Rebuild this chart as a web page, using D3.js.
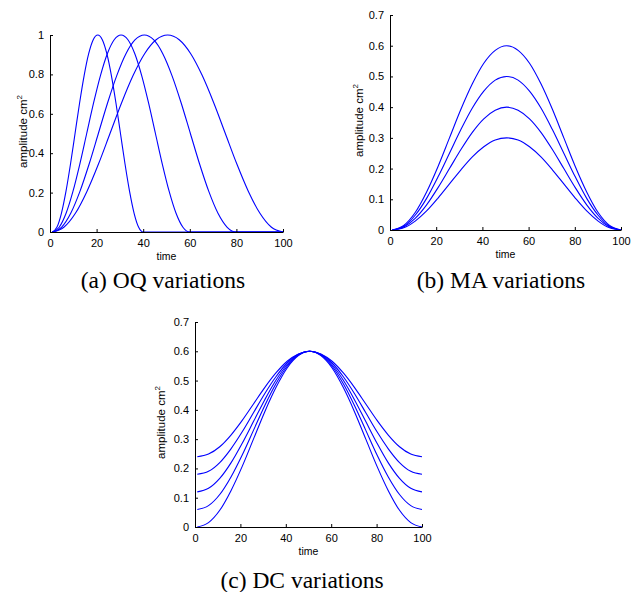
<!DOCTYPE html>
<html><head><meta charset="utf-8">
<script src="https://cdn.jsdelivr.net/npm/d3@7"></script>
<style>body{margin:0;background:#fff}svg{display:block}</style>
</head><body>
<script>
// ---- data ----
const tOQ40 = [1,2.95,4.9,6.85,8.8,10.75,12.7,14.65,16.6,18.55,20.5,22.45,24.4,26.35,28.3,30.25,32.2,34.15,36.1,38.05,40,100];
const tOQ60 = [1,3.95,6.9,9.85,12.8,15.75,18.7,21.65,24.6,27.55,30.5,33.45,36.4,39.35,42.3,45.25,48.2,51.15,54.1,57.05,60,100];
const tOQ80 = [1,4.95,8.9,12.85,16.8,20.75,24.7,28.65,32.6,36.55,40.5,44.45,48.4,52.35,56.3,60.25,64.2,68.15,72.1,76.05,80,100];
const tFull = [1,5.95,10.9,15.85,20.8,25.75,30.7,35.65,40.6,45.55,50.5,55.45,60.4,65.35,70.3,75.25,80.2,85.15,90.1,95.05,100];

const oq40 = [0,.024,.095,.206,.345,.5,.655,.794,.905,.976,1,.976,.905,.794,.655,.5,.345,.206,.095,.024,0,0];
const oq60 = [0,.024,.095,.206,.345,.5,.655,.794,.905,.976,1,.976,.905,.794,.655,.5,.345,.206,.095,.024,0,0];
const oq80 = [0,.024,.095,.206,.345,.5,.655,.794,.905,.976,1,.976,.905,.794,.655,.5,.345,.206,.095,.024,0,0];
const oq100 = [0,.024,.095,.206,.345,.5,.655,.794,.905,.976,1,.976,.905,.794,.655,.5,.345,.206,.095,.024,0];

const ma60 = [0,.015,.057,.124,.207,.300,.393,.476,.543,.585,.600,.585,.543,.476,.393,.300,.207,.124,.057,.015,0];
const ma50 = [0,.012,.048,.103,.173,.250,.327,.397,.452,.488,.500,.488,.452,.397,.327,.250,.173,.103,.048,.012,0];
const ma40 = [0,.010,.038,.082,.138,.200,.262,.318,.362,.390,.400,.390,.362,.318,.262,.200,.138,.082,.038,.010,0];
const ma30 = [0,.007,.029,.062,.104,.150,.196,.238,.271,.293,.300,.293,.271,.238,.196,.150,.104,.062,.029,.007,0];

const dc00 = [0,.015,.057,.124,.207,.300,.393,.476,.543,.585,.600,.585,.543,.476,.393,.300,.207,.124,.057,.015,0];
const dc06 = [.060,.073,.111,.171,.246,.330,.414,.489,.549,.587,.600,.587,.549,.489,.414,.330,.246,.171,.111,.073,.060];
const dc12 = [.120,.132,.166,.219,.286,.360,.434,.501,.554,.588,.600,.588,.554,.501,.434,.360,.286,.219,.166,.132,.120];
const dc18 = [.180,.190,.220,.267,.325,.390,.455,.513,.560,.590,.600,.590,.560,.513,.455,.390,.325,.267,.220,.190,.180];
const dc24 = [.240,.249,.274,.314,.364,.420,.476,.526,.566,.591,.600,.591,.566,.526,.476,.420,.364,.314,.274,.249,.240];

const xTicks = [0,20,40,60,80,100];
const yTicksA = [0,0.2,0.4,0.6,0.8,1];
const yTicksB = [0,0.1,0.2,0.3,0.4,0.5,0.6,0.7];
const captions = ["(a) OQ variations","(b) MA variations","(c) DC variations"];

// ---- drawing ----
const W = 635, H = 592;
const svg = d3.select("body").append("svg").attr("width", W).attr("height", H);
const SANS = "Liberation Sans, Arial, sans-serif";

const panels = [
  {x0:50, x1:283, y0:232, y1:35, ymax:1, yTicks:yTicksA, yFmt:d=>d===0||d===1?String(d):d3.format(".1f")(d),
   series:[[tOQ40,oq40],[tOQ60,oq60],[tOQ80,oq80],[tFull,oq100]], cap:captions[0], capX:163, capY:288, labX:27, timeY:259.5},
  {x0:390, x1:621, y0:230, y1:15, ymax:0.7, yTicks:yTicksB, yFmt:d=>d===0?"0":d3.format(".1f")(d),
   series:[[tFull,ma30],[tFull,ma40],[tFull,ma50],[tFull,ma60]], cap:captions[1], capX:501, capY:288, labX:363, timeY:257.5},
  {x0:195, x1:422, y0:527, y1:322, ymax:0.7, yTicks:yTicksB, yFmt:d=>d===0?"0":d3.format(".1f")(d),
   series:[[tFull,dc00],[tFull,dc06],[tFull,dc12],[tFull,dc18],[tFull,dc24]], cap:captions[2], capX:302, capY:588, labX:165, timeY:554.5}
];

panels.forEach(p => {
  const x = d3.scaleLinear().domain([0,100]).range([p.x0,p.x1]);
  const y = d3.scaleLinear().domain([0,p.ymax]).range([p.y0,p.y1]);
  const g = svg.append("g");
  const line = d3.line().x(d=>x(d[0])).y(d=>y(d[1])).curve(d3.curveMonotoneX);
  p.series.forEach(([t,v]) => {
    g.append("path").datum(t.map((tt,i)=>[tt,v[i]]))
      .attr("d", line).attr("fill","none").attr("stroke","#0000ff").attr("stroke-width",1.1);
  });
  const ax = g.append("g").attr("transform",`translate(0,${p.y0})`)
    .call(d3.axisBottom(x).tickValues(xTicks).tickSizeInner(-3).tickSizeOuter(0).tickPadding(7));
  const ay = g.append("g").attr("transform",`translate(${p.x0},0)`)
    .call(d3.axisLeft(y).tickValues(p.yTicks).tickFormat(p.yFmt).tickSizeInner(-3).tickSizeOuter(0).tickPadding(6));
  [ax,ay].forEach(a=>{
    a.selectAll("text").attr("font-family",SANS).attr("font-size",11).attr("fill","#000");
    a.select(".domain").attr("stroke","#000");
    a.selectAll(".tick line").attr("stroke","#000");
  });
  g.append("text").attr("x",(p.x0+p.x1)/2).attr("y",p.timeY).attr("text-anchor","middle")
    .attr("font-family",SANS).attr("font-size",10.5).text("time");
  const yl = g.append("text").attr("transform",`translate(${p.labX},${(p.y0+p.y1)/2 - 2}) rotate(-90)`)
    .attr("text-anchor","middle").attr("font-family",SANS).attr("font-size",11.5);
  yl.append("tspan").text("amplitude cm");
  yl.append("tspan").attr("dy",-5).attr("font-size",8).text("2");
  svg.append("text").attr("x",p.capX).attr("y",p.capY).attr("text-anchor","middle")
    .attr("font-family","Liberation Serif, Times New Roman, serif").attr("font-size",23.5).text(p.cap);
});
</script>
</body></html>
